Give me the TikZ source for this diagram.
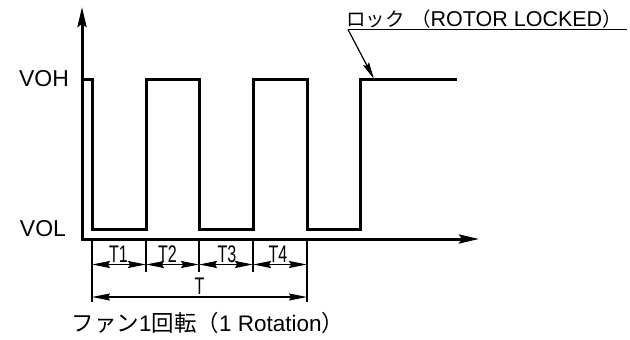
\documentclass[tikz,border=0pt]{standalone}
\usepackage{fontspec}
\setmainfont{Liberation Sans}
\newfontfamily\jp{Noto Sans CJK JP}
\usetikzlibrary{arrows.meta}
\newcommand{\narrowtxt}[1]{\scalebox{0.67}[1]{#1}}
\begin{document}
\begin{tikzpicture}[x=1pt,y=-1pt,
  axisline/.style={line width=3pt,-{Stealth[length=20pt,width=9pt,inset=3pt]}},
  signal/.style={line width=3pt,line join=miter},
  thin/.style={line width=1.2pt},
  dimline/.style={line width=1.2pt,{Stealth[length=18pt,width=7pt,inset=2pt]}-{Stealth[length=18pt,width=7pt,inset=2pt]}},
  lvl/.style={font=\fontsize{23}{23}\selectfont,inner sep=0pt},
  tlab/.style={font=\fontsize{24}{24}\selectfont,inner sep=0pt,anchor=base},
  jlab/.style={font=\fontsize{22.5}{22.5}\selectfont,inner sep=0pt}]
\useasboundingbox (0,0) rectangle (630,340);
% axes
\coordinate (O) at (82,239);
\coordinate (ytip) at (82,7);
\coordinate (xtip) at (479,239);
\draw[axisline] (80.5,239) coordinate (Ostart) -- (xtip);
\draw[axisline] (O) -- (ytip);
% signal
\coordinate (s0) at (82,79);
\coordinate (e1) at (92,79);
\coordinate (e2) at (146,229);
\coordinate (e3) at (199,79);
\coordinate (e4) at (253,229);
\coordinate (e5) at (307,79);
\coordinate (e6) at (360,229);
\coordinate (send) at (457,79);
\draw[signal] (s0) -| (e1 |- e2) -| (e2 |- e3) -| (e3 |- e2) -| (e4 |- e3) -| (e5 |- e2) -| (e6 |- e3) -- (send);
% extension lines
\foreach \n/\x/\yb in {a/92/302, b/146/272, c/199/272, d/253/272, e/307/302}{
  \coordinate (x\n) at (\x,241);
  \coordinate (x\n b) at (\x,\yb);
  \coordinate (d\n) at (\x,264.5);
  \draw[thin] (x\n) -- (x\n b);
}
\coordinate (Ta) at (92,297);
\coordinate (Te) at (307,297);
\draw[dimline] (da) -- (db);
\draw[dimline] (db) -- (dc);
\draw[dimline] (dc) -- (dd);
\draw[dimline] (dd) -- (de);
\draw[dimline] (Ta) -- (Te);
% labels
\node[lvl] (voh) at (44,79) {VOH};
\node[lvl] (vol) at (43,229) {VOL};
\node[tlab] (t1) at (118.5,262) {\narrowtxt{T1}};
\node[tlab] (t2) at (167.5,262) {\narrowtxt{T2}};
\node[tlab] (t3) at (227,262) {\narrowtxt{T3}};
\node[tlab] (t4) at (278,262) {\narrowtxt{T4}};
\node[tlab] (t) at (199.5,294) {\narrowtxt{T}};
\node[jlab] (rot) at (208,323) {{\jp ファン}1{\jp 回転（}1 Rotation{\jp ）}};
\node[jlab,anchor=base west,font=\fontsize{21.5}{21.5}\selectfont] (lock) at (346,26.5) {{\jp\fontsize{19.5}{19.5}\selectfont ロック}\hspace{0.3em}{\jp\fontsize{19.5}{19.5}\selectfont （}ROTOR LOCKED{\jp\fontsize{19.5}{19.5}\selectfont ）}};
% leader
\coordinate (u1) at (348,29.5);
\coordinate (u2) at (627,29.5);
\coordinate (ltip) at (374,79);
\draw[thin] (u1) -- (u2);
\draw[thin,-{Stealth[length=17pt,width=6.5pt,inset=2pt]}] (u1) -- (ltip);
\end{tikzpicture}
\end{document}
